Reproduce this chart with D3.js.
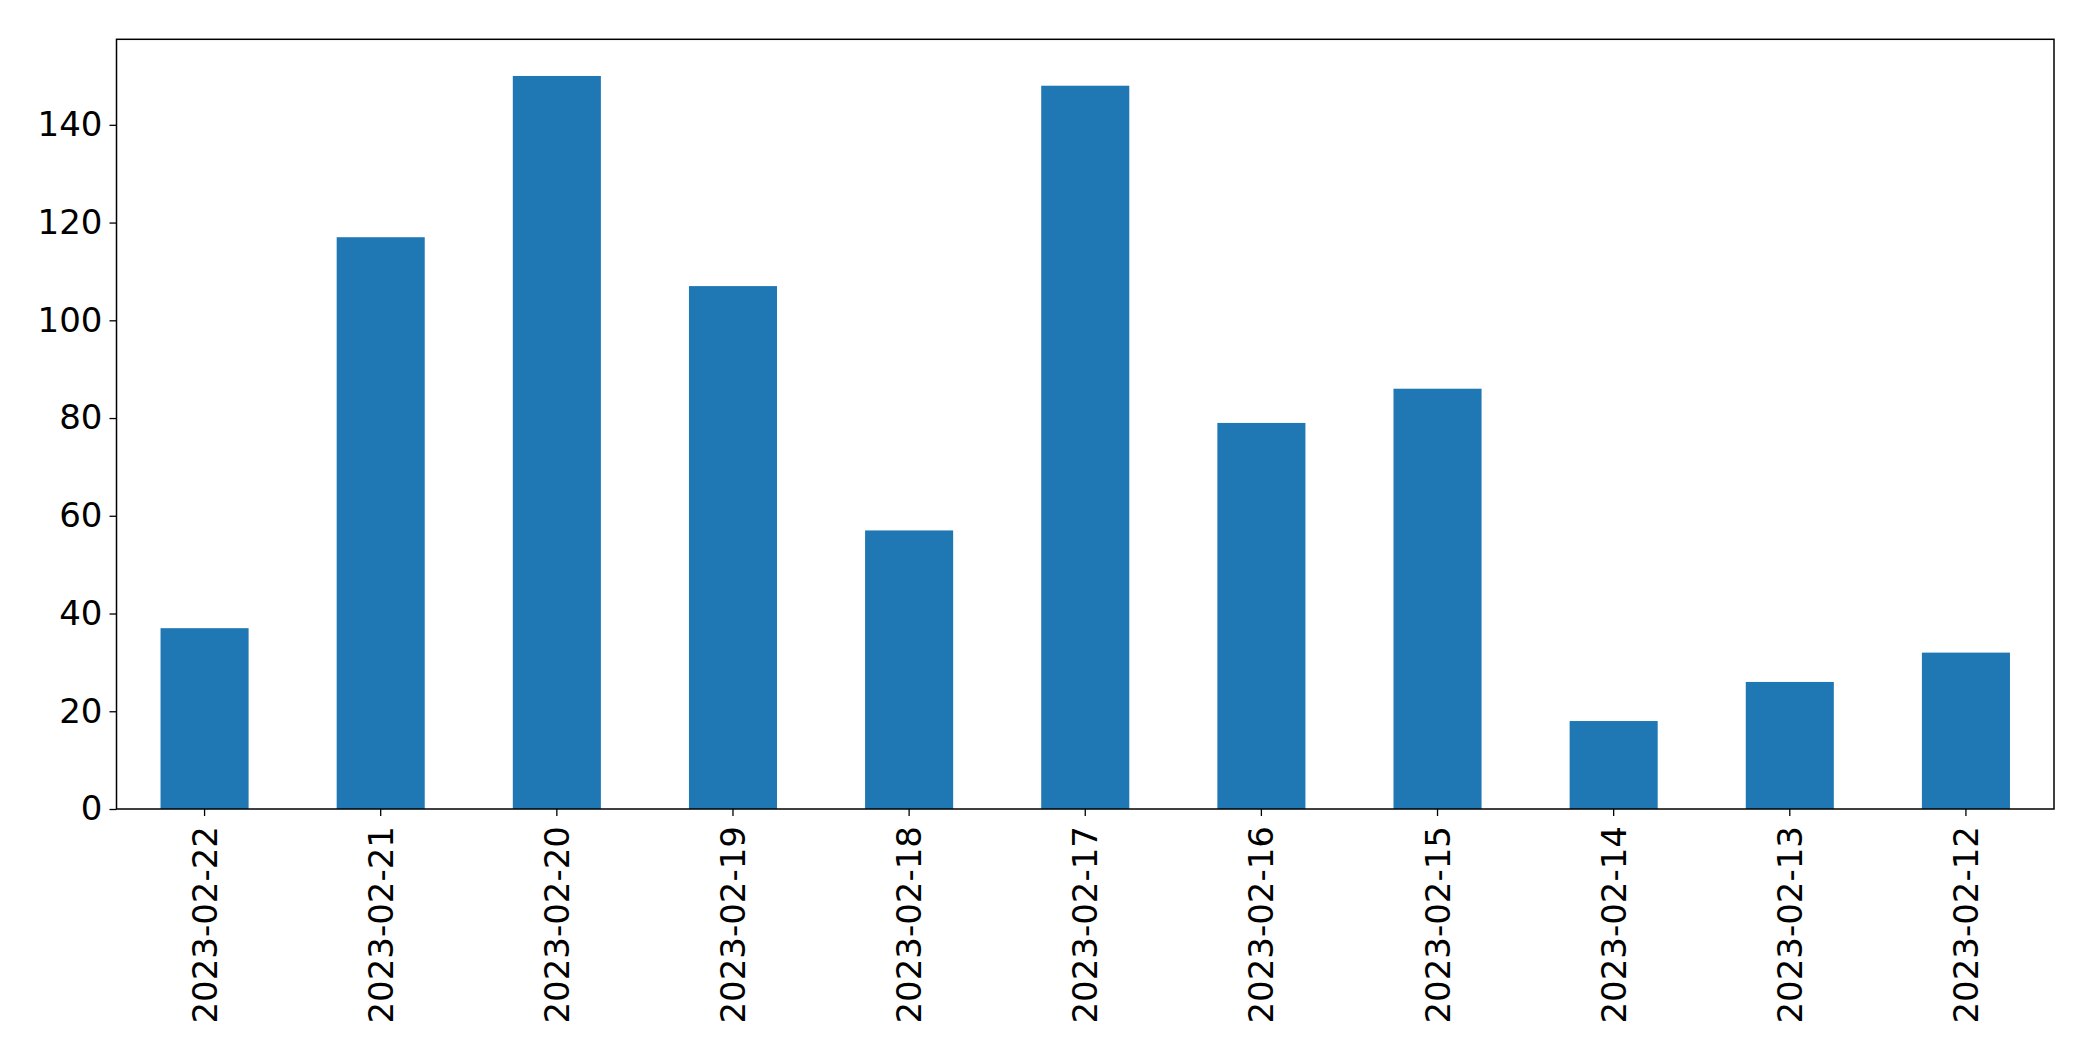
<!DOCTYPE html>
<html>
<head>
<meta charset="utf-8">
<script src="https://cdn.jsdelivr.net/npm/d3@7"></script>
<style>
  html, body { margin: 0; padding: 0; background: #fff; }
  svg { display: block; }
  text { font-family: "DejaVu Sans", sans-serif; fill: #000; }
</style>
</head>
<body>
<svg id="chart" width="2093" height="1061"></svg>
<script>
const categories = ["2023-02-22","2023-02-21","2023-02-20","2023-02-19","2023-02-18","2023-02-17","2023-02-16","2023-02-15","2023-02-14","2023-02-13","2023-02-12"];
const values = [37, 117, 150, 107, 57, 148, 79, 86, 18, 26, 32];
const yTicks = [0, 20, 40, 60, 80, 100, 120, 140];

(function () {
const svg = d3.select("#chart");
const mLeft = 116.5, mRight = 2054, mTop = 39.3, mBottom = 809;
const fontSize = 34;

const x = d3.scaleBand().domain(categories).range([mLeft, mRight]).paddingInner(0.5).paddingOuter(0.25);
const y = d3.scaleLinear().domain([0, d3.max(values) * 1.05]).range([mBottom, mTop]);

svg.append("g").selectAll("rect").data(values).join("rect")
  .attr("x", (d, i) => x(categories[i]))
  .attr("width", x.bandwidth())
  .attr("y", d => y(d))
  .attr("height", d => y(0) - y(d))
  .attr("fill", "#1f77b4");

const yAxis = svg.append("g").attr("transform", `translate(${mLeft},0)`)
  .call(d3.axisLeft(y).tickValues(yTicks).tickSize(7).tickPadding(7).tickFormat(d3.format("d")));
yAxis.select(".domain").remove();
yAxis.selectAll("line").attr("stroke", "#000").attr("stroke-width", 1.3);
yAxis.selectAll("text").attr("font-size", fontSize).attr("font-family", "DejaVu Sans");

const xAxis = svg.append("g").attr("transform", `translate(0,${mBottom})`)
  .call(d3.axisBottom(x).tickSize(7).tickPadding(0));
xAxis.select(".domain").remove();
xAxis.selectAll("line").attr("stroke", "#000").attr("stroke-width", 1.3);
xAxis.selectAll("text")
  .attr("font-size", fontSize)
  .attr("font-family", "DejaVu Sans")
  .attr("text-anchor", "end")
  .attr("dy", null)
  .attr("y", 0)
  .attr("dominant-baseline", "central")
  .attr("transform", "translate(0,17) rotate(-90)");

svg.append("rect")
  .attr("x", mLeft).attr("y", mTop)
  .attr("width", mRight - mLeft).attr("height", mBottom - mTop)
  .attr("fill", "none").attr("stroke", "#000").attr("stroke-width", 1.5);
})();
</script>
</body>
</html>
